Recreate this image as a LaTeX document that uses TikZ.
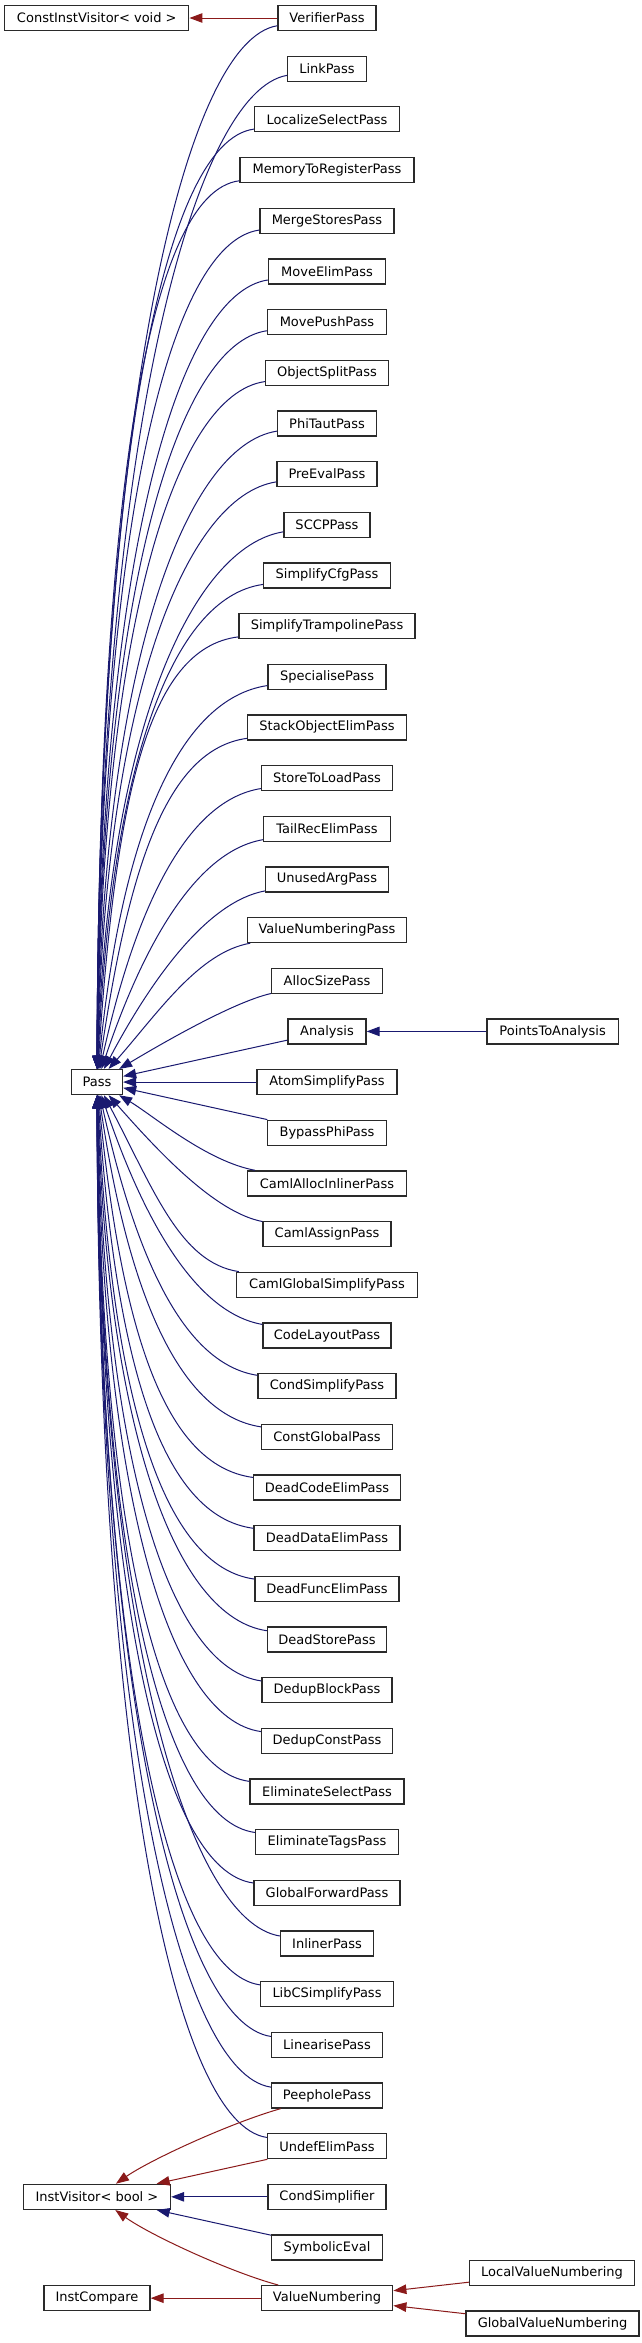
\documentclass[tikz,border=0pt]{standalone}
\usepackage{fontspec}
\setmainfont{DejaVu Sans}
\usetikzlibrary{arrows.meta}
\definecolor{navyedge}{HTML}{191970}
\definecolor{rededge}{HTML}{8B1A1A}
\definecolor{boxline}{HTML}{2A2A2A}
\def\passkids{0/verifier/98/VerifierPass,1/link/78.5/LinkPass,2/localize/145/LocalizeSelectPass,3/memtoreg/174/MemoryToRegisterPass,4/mergestores/134/MergeStoresPass,5/moveelim/117/MoveElimPass,6/movepush/119/MovePushPass,7/objsplit/123/ObjectSplitPass,8/phitaut/99/PhiTautPass,9/preeval/100/PreEvalPass,10/sccp/86/SCCPPass,11/simplifycfg/127/SimplifyCfgPass,12/simptramp/176/SimplifyTrampolinePass,13/specialise/118/SpecialisePass,14/stackobj/159/StackObjectElimPass,15/storetoload/131/StoreToLoadPass,16/tailrec/127/TailRecElimPass,17/unusedarg/123/UnusedArgPass,18/vnpass/159/ValueNumberingPass,19/allocsize/111/AllocSizePass,20/analysis/78/Analysis,21/atomsimp/140/AtomSimplifyPass,22/bypassphi/119/BypassPhiPass,23/camlalloc/159/CamlAllocInlinerPass,24/camlassign/128/CamlAssignPass,25/camlglobal/181/CamlGlobalSimplifyPass,26/codelayout/128/CodeLayoutPass,27/condsimplifypass/138/CondSimplifyPass,28/constglobal/131/ConstGlobalPass,29/deadcode/147/DeadCodeElimPass,30/deaddata/146/DeadDataElimPass,31/deadfunc/144/DeadFuncElimPass,32/deadstore/119/DeadStorePass,33/dedupblock/130/DedupBlockPass,34/dedupconst/131/DedupConstPass,35/elimselect/154/EliminateSelectPass,36/elimtags/143/EliminateTagsPass,37/globalfwd/146/GlobalForwardPass,38/inliner/93/InlinerPass,39/libcsimp/133/LibCSimplifyPass,40/linearise/111/LinearisePass,41/peephole/111/PeepholePass,42/undefelim/119/UndefElimPass}
\begin{document}
\begin{tikzpicture}[x=1pt,y=-1pt,
  box/.style={draw=boxline,line width=1.3pt,fill=white,inner sep=0pt,minimum height=25pt,
    font=\fontsize{13}{15}\selectfont},
  inh/.style={draw=navyedge,line width=1pt,-{Triangle[length=13pt,width=9.5pt]}},
  redinh/.style={draw=rededge,line width=1pt,-{Triangle[length=13pt,width=9.5pt]}}]
\fill[white] (0,0) rectangle (641,2343);
\useasboundingbox (0,0) rectangle (641,2343);
% middle column
\foreach \r/\nm/\w/\txt in \passkids {
  \node[box,minimum width=\w pt] (\nm) at (327,{18+50.67*\r}) {\txt};
}
\node[box,minimum width=118pt] (condsimp) at (327,{18+50.67*43}) {CondSimplifier};
\node[box,minimum width=111pt] (symeval) at (327,{18+50.67*44}) {SymbolicEval};
\node[box,minimum width=131.5pt] (valnum) at (327,{18+50.67*45}) {ValueNumbering};
% left column
\node[box,minimum width=184pt] (constiv) at (96.8,18) {ConstInstVisitor< void >};
\node[box,minimum width=51pt] (pass) at (97,{18+50.67*21}) {Pass};
\node[box,minimum width=147pt] (instvis) at (97,{18+50.67*43}) {InstVisitor< bool >};
\node[box,minimum width=106pt] (instcmp) at (97,{18+50.67*45}) {InstCompare};
% right column
\node[box,minimum width=131.5pt] (pointsto) at (552.6,{18+50.67*20}) {PointsToAnalysis};
\node[box,minimum width=165pt] (localvn) at (552,{18+50.67*44.5}) {LocalValueNumbering};
\node[box,minimum width=173pt] (globalvn) at (552.5,{18+50.67*45.5}) {GlobalValueNumbering};
% edges to Pass
\foreach \r/\nm/\w/\txt in \passkids {
  \pgfmathtruncatemacro\nn{abs(\r-21)}
  \ifnum\nn<2
    \draw[inh] (\nm) -- (pass);
  \else
    \pgfmathsetmacro\sgn{\r<21 ? 1 : -1}
    \pgfmathsetmacro\yc{18+50.67*\r}
    \pgfmathsetmacro\hone{min(92,25+8*\nn)}
    \pgfmathsetmacro\cax{327-\w/2-\hone}
    \pgfmathsetmacro\cay{\yc+22*(\sgn)}
    \pgfmathsetmacro\eee{exp(-(\nn-2)/2.5)}
    \pgfmathsetmacro\phiang{90-57*\eee}
    \pgfmathsetmacro\exx{98+23*\eee}
    \pgfmathsetmacro\eyy{1082.07-12.5*(\sgn)}
    \pgfmathsetmacro\Ltwo{0.66*\nn*50.67-30}
    \pgfmathsetmacro\cbx{\exx+\Ltwo*cos(\phiang)}
    \pgfmathsetmacro\cby{\eyy-(\sgn)*\Ltwo*sin(\phiang)}
    \draw[inh] (\nm) .. controls (\cax,\cay) and (\cbx,\cby) .. (pass);
  \fi
}
% other edges
\draw[redinh] (verifier) -- (constiv);
\draw[inh] (pointsto) -- (analysis);
\draw[redinh] (peephole) .. controls (230,2123) and (150,2160) .. (instvis);
\draw[redinh] (undefelim) -- (instvis);
\draw[inh] (condsimp) -- (instvis);
\draw[inh] (symeval) -- (instvis);
\draw[redinh] (valnum) .. controls (230,2272) and (150,2235) .. (instvis);
\draw[redinh] (valnum) -- (instcmp);
\draw[redinh] (localvn) -- (valnum);
\draw[redinh] (globalvn) -- (valnum);
\end{tikzpicture}
\end{document}
